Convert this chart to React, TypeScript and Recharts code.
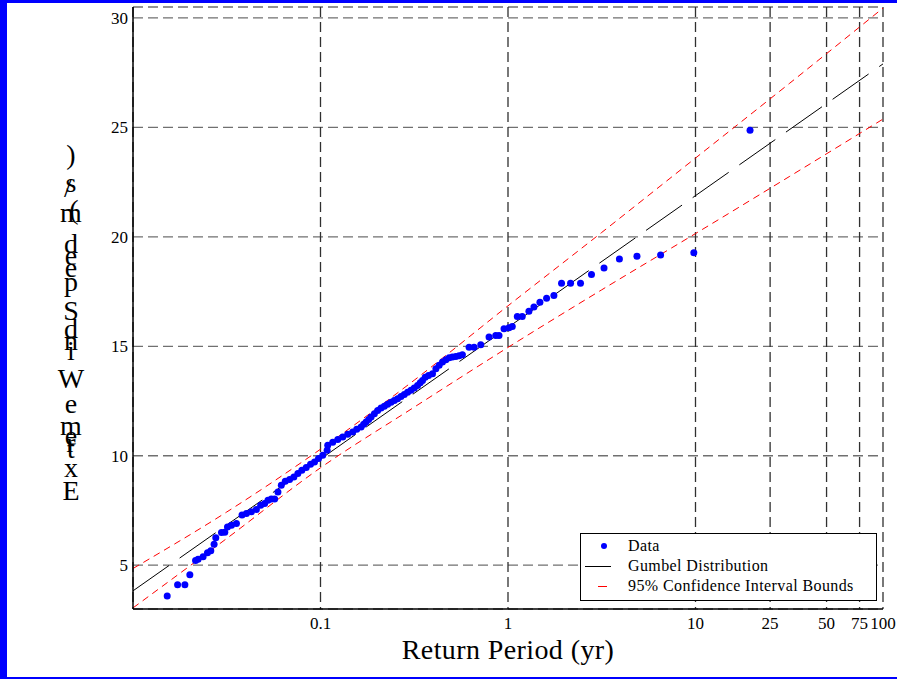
import { ComposedChart, Line, Scatter, XAxis, YAxis, CartesianGrid } from 'recharts';

// observed return periods (yr) and extreme wind speeds (m/s)
const returnPeriod = [
  0.01522, 0.01729, 0.01891, 0.0201, 0.02156, 0.02225, 0.02365, 0.02496, 0.026, 0.02707,
  0.02764, 0.02964, 0.03087, 0.0319, 0.0335, 0.03561, 0.03815, 0.04026, 0.04279, 0.0455,
  0.04797, 0.05037, 0.05245, 0.05468, 0.05693, 0.05929, 0.0618, 0.06489, 0.0684, 0.07211,
  0.07574, 0.07953, 0.08393, 0.08847, 0.09291, 0.09759, 0.1028, 0.1085,
  0.1093, 0.1162, 0.1236, 0.1314, 0.1397, 0.1485, 0.156, 0.1646, 0.1699, 0.175,
  0.1807, 0.1861, 0.1938, 0.2018, 0.2103, 0.219, 0.228, 0.2377, 0.2475, 0.2577,
  0.2687, 0.2798, 0.2914, 0.3037, 0.3162, 0.3293, 0.3403, 0.35, 0.3618, 0.3768,
  0.3957, 0.4125, 0.4295, 0.4472, 0.4662, 0.4855, 0.5055, 0.527, 0.5486, 0.5712,
  0.6202, 0.6594, 0.7157, 0.7922, 0.8602, 0.8956, 0.9522, 1.012, 1.054, 1.121,
  1.191, 1.293, 1.375, 1.48, 1.606, 1.757, 1.93, 2.156, 2.436, 2.788,
  3.252, 3.928, 4.873, 6.514, 9.795, 19.54,
];
const windSpeed = [
  3.59, 4.11, 4.11, 4.56, 5.22, 5.27, 5.39, 5.57, 5.66, 5.96,
  6.25, 6.5, 6.51, 6.75, 6.83, 6.91, 7.29, 7.36, 7.44, 7.55,
  7.74, 7.82, 7.97, 8.02, 8.03, 8.35, 8.65, 8.84, 8.91, 9.03,
  9.19, 9.34, 9.46, 9.61, 9.72, 9.87, 10.02, 10.25,
  10.48, 10.62, 10.74, 10.86, 10.98, 11.09, 11.21, 11.31, 11.44, 11.54,
  11.66, 11.77, 11.92, 12.07, 12.18, 12.26, 12.35, 12.45, 12.53, 12.61,
  12.71, 12.8, 12.9, 12.99, 13.09, 13.21, 13.34, 13.44, 13.59, 13.67,
  13.75, 13.98, 14.13, 14.28, 14.39, 14.48, 14.51, 14.54, 14.57, 14.61,
  14.96, 14.96, 15.07, 15.42, 15.49, 15.49, 15.8, 15.85, 15.91, 16.36,
  16.36, 16.6, 16.79, 17.01, 17.2, 17.32, 17.88, 17.88, 17.88, 18.28,
  18.58, 18.99, 19.11, 19.17, 19.27, 24.87,
];

// fitted Gumbel line
const fitPeriod = [0.01, 100];
const fitSpeed = [3.83, 27.9];

// 95% confidence bounds
const boundPeriod = [0.01, 0.0316, 0.1, 0.316, 1, 3.16, 10, 31.6, 100];
const upperBound = [4.85, 7.43, 10.3, 13.45, 16.85, 20.2, 23.6, 27.0, 30.45];
const lowerBound = [3.05, 6.22, 9.45, 12.22, 14.95, 17.58, 20.15, 22.75, 25.38];

const xTicks = [0.1, 1, 10, 25, 50, 75, 100];
const yTicks = [5, 10, 15, 20, 25, 30];

const yLabelChars = ['E', 'x', 't', 'r', 'e', 'm', 'e', 'W', 'i', 'n', 'd', 'S', 'p', 'e', 'e', 'd', '(', 'm', '/', 's', ')'];
const yLabelBase = [500, 477, 458, 452, 445, 435, 413, 388, 360, 350, 338, 320, 291, 277, 265, 253, 219, 222, 197, 192, 164];
const yLabelX = [71, 71, 71, 71, 71, 71, 71, 71, 71, 71, 71, 71, 71, 71, 71, 71, 74, 71, 68, 71, 71];

const zip = (xs: number[], ys: number[]) => xs.map((period, i) => ({ period, speed: ys[i] }));

const points = zip(returnPeriod, windSpeed);
const fit = zip(fitPeriod, fitSpeed);
const upper = zip(boundPeriod, upperBound);
const lower = zip(boundPeriod, lowerBound);

const serif = '"Liberation Serif", "Times New Roman", serif';
const tickStyle = { fontFamily: serif, fontSize: 17, fill: '#000' };

const Dot = (props: any) => <circle cx={props.cx} cy={props.cy} r={3.5} fill="#0000ff" />;

export default function App() {
  return (
    <div style={{ position: 'absolute', left: 0, top: 0, width: 897, height: 679, background: '#fff' }}>
      <ComposedChart width={897} height={679} data={points} margin={{ top: 7, right: 14, bottom: 0, left: 0 }}>
        <CartesianGrid vertical={false} stroke="#707070" strokeWidth={1.3} strokeDasharray="10 5" />
        <CartesianGrid horizontal={false} stroke="#303030" strokeWidth={1.3} strokeDasharray="10 5" />
        <XAxis
          dataKey="period"
          type="number"
          scale="log"
          domain={[0.01, 100]}
          ticks={xTicks}
          interval={0}
          allowDataOverflow
          height={70}
          tickLine={false}
          tickSize={0}
          tickMargin={8}
          tick={tickStyle}
          axisLine={{ stroke: '#000', strokeWidth: 1.5 }}
          label={{ value: 'Return Period (yr)', position: 'insideBottom', offset: 20, style: { fontFamily: serif, fontSize: 28, fill: '#000', letterSpacing: 0.4 } }}
        />
        <XAxis xAxisId="top" orientation="top" dataKey="period" type="number" scale="log" domain={[0.01, 100]} allowDataOverflow height={0} tick={false} tickLine={false} axisLine={{ stroke: '#000', strokeWidth: 1.5 }} />
        <YAxis
          dataKey="speed"
          type="number"
          domain={[3, 30.5]}
          ticks={yTicks}
          interval={0}
          allowDataOverflow
          width={133}
          tickLine={false}
          tickSize={0}
          tickMargin={5}
          tick={tickStyle}
          axisLine={{ stroke: '#000', strokeWidth: 1.5 }}
        />
        <YAxis yAxisId="right" orientation="right" dataKey="speed" type="number" domain={[3, 30.5]} allowDataOverflow width={0} tick={false} tickLine={false} axisLine={{ stroke: '#000', strokeWidth: 1.5 }} />
        <Scatter data={points} dataKey="speed" shape={Dot} isAnimationActive={false} />
        <Line data={fit} dataKey="speed" type="linear" stroke="#000" strokeWidth={1} strokeDasharray="44 13" dot={false} activeDot={false} isAnimationActive={false} />
        <Line data={upper} dataKey="speed" type="monotone" stroke="#ff0000" strokeWidth={1} strokeDasharray="7 5" dot={false} activeDot={false} isAnimationActive={false} />
        <Line data={lower} dataKey="speed" type="monotone" stroke="#ff0000" strokeWidth={1} strokeDasharray="7 5" dot={false} activeDot={false} isAnimationActive={false} />
      </ComposedChart>

      <svg width={130} height={679} style={{ position: 'absolute', left: 0, top: 0, pointerEvents: 'none' }}>
        {yLabelChars.map((c, i) => (
          <text key={i} x={yLabelX[i]} y={yLabelBase[i]} textAnchor="middle" fontFamily={serif} fontSize={28} fill="#000">
            {c}
          </text>
        ))}
      </svg>

      <div style={{ position: 'absolute', left: 580, top: 533, width: 295, height: 66, border: '1px solid #000', background: '#fff', fontFamily: serif, fontSize: 16, color: '#000', letterSpacing: 0.4 }}>
        <div style={{ position: 'absolute', left: 20, top: 9, width: 6, height: 6, borderRadius: 3, background: '#0000ff' }} />
        <div style={{ position: 'absolute', left: 47, top: 2, lineHeight: '20px' }}>Data</div>
        <div style={{ position: 'absolute', left: 4, top: 32, width: 26, height: 1, background: '#000' }} />
        <div style={{ position: 'absolute', left: 47, top: 22, lineHeight: '20px' }}>Gumbel Distribution</div>
        <div style={{ position: 'absolute', left: 17, top: 52, width: 9, height: 1, background: '#ff0000' }} />
        <div style={{ position: 'absolute', left: 47, top: 42, lineHeight: '20px' }}>95% Confidence Interval Bounds</div>
      </div>

      <div style={{ position: 'absolute', left: 0, top: 0, width: 7, height: 679, background: '#0000ff' }} />
      <div style={{ position: 'absolute', left: 0, top: 0, width: 897, height: 3, background: '#0000ff' }} />
      <div style={{ position: 'absolute', left: 0, top: 677, width: 897, height: 2, background: '#0000ff' }} />
    </div>
  );
}
